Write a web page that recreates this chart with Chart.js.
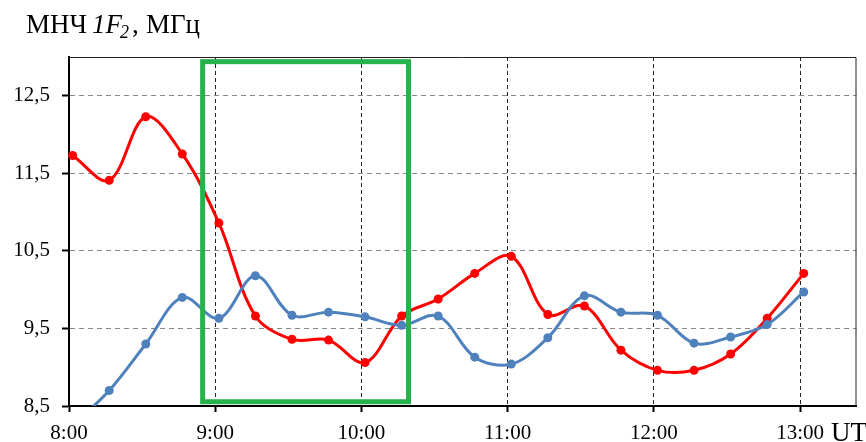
<!DOCTYPE html>
<html>
<head>
<meta charset="utf-8">
<script src="https://cdn.jsdelivr.net/npm/chart.js@4"></script>
<style>
  html, body { margin: 0; padding: 0; background: #fff; overflow: hidden; }
  #wrap { width: 866px; height: 442px; position: relative; }
</style>
</head>
<body>
<div id="wrap"><canvas id="mnchChart"></canvas></div>
<script>
// time of each sounding, hours UT
var times = [8.025, 8.275, 8.525, 8.775, 9.025, 9.275, 9.525, 9.775, 10.025, 10.275, 10.525,
             10.775, 11.025, 11.275, 11.525, 11.775, 12.025, 12.275, 12.525, 12.775, 13.025];

// foF2 values, MHz
var redValues  = [11.73, 11.41, 12.23, 11.75, 10.86, 9.66, 9.36, 9.35, 9.06, 9.66, 9.88,
                  10.21, 10.43, 9.68, 9.79, 9.22, 8.96, 8.96, 9.17, 9.63, 10.21];
var blueValues = [8.25, 8.70, 9.30, 9.90, 9.63, 10.18, 9.67, 9.71, 9.65, 9.54, 9.66,
                  9.13, 9.04, 9.38, 9.92, 9.71, 9.67, 9.31, 9.39, 9.55, 9.97];

var xTicks = [8, 9, 10, 11, 12, 13];
var yTicks = [8.5, 9.5, 10.5, 11.5, 12.5];

// highlighted interval (hours, MHz)
var boxX = [8.914, 10.322];
var boxY = [8.555, 12.94];

var serif = '"Liberation Serif", "Times New Roman", serif';

function toPoints(vals) {
    return vals.map(function(v, i) { return { x: times[i], y: v }; });
}

// frame, green box and the texts around the plot
var extrasPlugin = {
    id: 'extras',
    afterDatasetsDraw: function(chart) {
        var ctx = chart.ctx, a = chart.chartArea;
        var xs = chart.scales.x, ys = chart.scales.y;

        // thin frame on top and right
        ctx.save();
        ctx.strokeStyle = '#222';
        ctx.lineWidth = 1;
        ctx.beginPath();
        ctx.moveTo(a.left, a.top + 0.5);
        ctx.lineTo(a.right - 0.5, a.top + 0.5);
        ctx.lineTo(a.right - 0.5, a.bottom);
        ctx.stroke();
        ctx.restore();

        var x1 = xs.getPixelForValue(boxX[0]), x2 = xs.getPixelForValue(boxX[1]);
        var y1 = ys.getPixelForValue(boxY[1]), y2 = ys.getPixelForValue(boxY[0]);
        ctx.save();
        ctx.strokeStyle = '#27b24c';
        ctx.lineWidth = 5;
        ctx.strokeRect(x1, y1, x2 - x1, y2 - y1);
        ctx.restore();

        // axis title
        ctx.save();
        ctx.fillStyle = '#000';
        ctx.textBaseline = 'alphabetic';
        var base = 33;
        ctx.font = '27px ' + serif;
        ctx.fillText('МНЧ', 26, base);
        ctx.font = 'italic 27px ' + serif;
        ctx.fillText('1F', 92, base);
        ctx.font = 'italic 18px ' + serif;
        ctx.fillText('2', 120, base + 5);
        ctx.font = '27px ' + serif;
        ctx.fillText(',', 132, base);
        ctx.fillText('МГц', 146, base);

        ctx.fillText('UT', 831, 441);
        ctx.restore();
    }
};

var ctx = document.getElementById('mnchChart').getContext('2d');
var mnchChart = new Chart(ctx, {
    type: 'line',
    data: {
        datasets: [{
            data: toPoints(blueValues),
            borderColor: '#4f81bd',
            backgroundColor: '#4f81bd',
            borderWidth: 3,
            pointRadius: 4.5,
            pointBorderWidth: 0,
            tension: 0.35,
            clip: { left: 6, top: 6, right: 6, bottom: 0 }
        }, {
            data: toPoints(redValues),
            borderColor: '#ff0000',
            backgroundColor: '#ff0000',
            borderWidth: 3,
            pointRadius: 4.5,
            pointBorderWidth: 0,
            tension: 0.35,
            clip: { left: 6, top: 6, right: 6, bottom: 0 }
        }]
    },
    options: {
        responsive: true,
        maintainAspectRatio: false,
        animation: false,
        layout: { padding: { top: 57, right: 9.5, left: 0, bottom: 0 } },
        plugins: {
            legend: { display: false },
            tooltip: { enabled: false }
        },
        scales: {
            x: {
                type: 'linear',
                min: 8,
                max: 13.386,
                afterBuildTicks: function(scale) {
                    scale.ticks = xTicks.map(function(v) { return { value: v }; });
                },
                afterFit: function(scale) { scale.height = 36; },
                ticks: {
                    font: { family: serif, size: 21 },
                    color: '#000',
                    padding: 9,
                    maxRotation: 0,
                    callback: function(v) { return v + ':00'; }
                },
                grid: {
                    color: '#222',
                    lineWidth: 1,
                    tickColor: '#000',
                    tickWidth: 2,
                    tickLength: 6
                },
                border: { color: '#000', width: 2, dash: [4, 3] }
            },
            y: {
                min: 8.5,
                max: 13,
                afterBuildTicks: function(scale) {
                    scale.ticks = yTicks.map(function(v) { return { value: v }; });
                },
                afterFit: function(scale) { scale.width = 69; },
                ticks: {
                    font: { family: serif, size: 21 },
                    color: '#000',
                    padding: 12,
                    callback: function(v) { return v.toFixed(1).replace('.', ','); }
                },
                grid: {
                    color: '#888',
                    lineWidth: 1,
                    tickColor: '#000',
                    tickWidth: 2,
                    tickLength: 7
                },
                border: { color: '#000', width: 2, dash: [5, 4] }
            }
        }
    },
    plugins: [extrasPlugin]
});
</script>
</body>
</html>
